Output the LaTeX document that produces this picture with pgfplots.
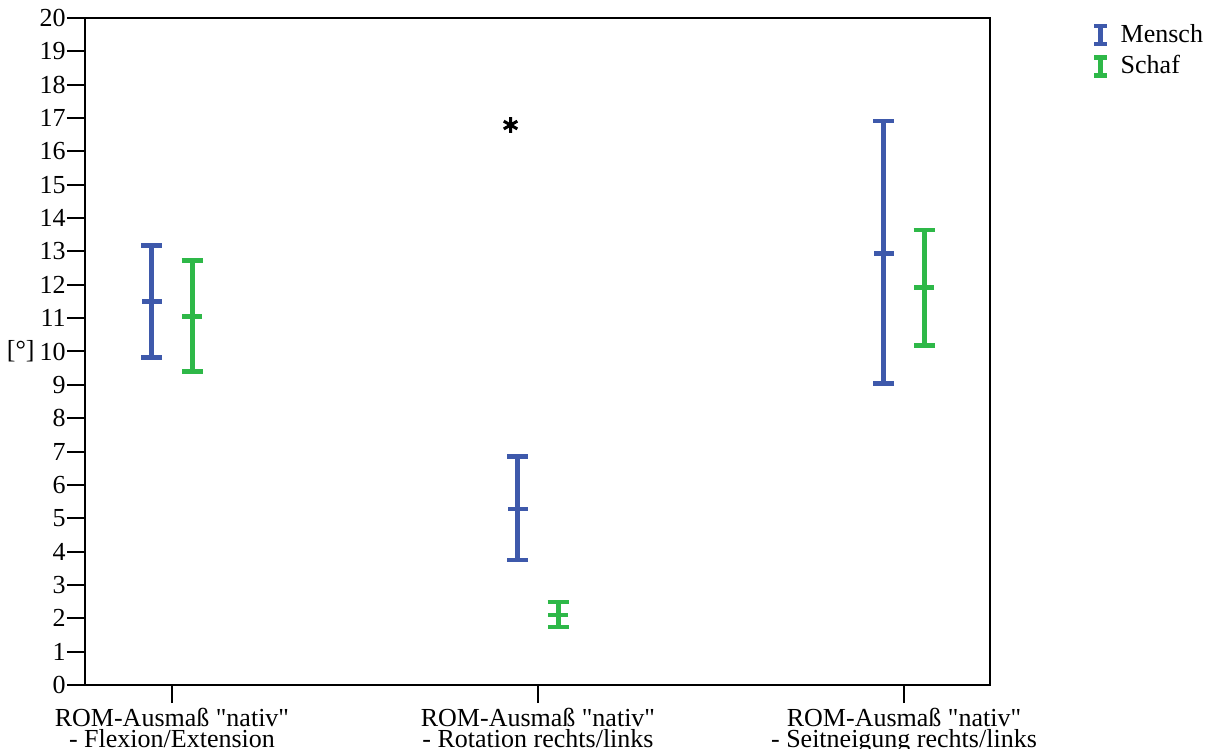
\documentclass[border=0pt]{standalone}
\usepackage{fontspec}
\setmainfont{Liberation Serif}
\newfontfamily\qf{Liberation Serif}
\usepackage{pgfplots}
\usepackage{pgfplotstable}
\pgfplotsset{compat=1.18}
\definecolor{mblue}{RGB}{62,89,171}
\definecolor{sgreen}{RGB}{46,184,72}
\newcommand{\q}{{\qf\symbol{34}}}

\pgfplotstableread{
x y ep em
-0.056 11.51 1.68 1.68
0.944 5.28 1.56 1.53
1.944 12.95 3.96 3.92
}\mensch
\pgfplotstableread{
x y ep em
0.055 11.06 1.68 1.65
1.055 2.10 0.39 0.36
2.055 11.93 1.71 1.74
}\schaf

\begin{document}
\begin{tikzpicture}
\begin{axis}[
  scale only axis, width=452.5pt, height=333.5pt,
  xmin=-0.2377, xmax=2.235, ymin=0, ymax=20,
  axis line style={line width=1pt, black},
  tick style={line width=1pt, black},
  tick align=outside,
  xtick pos=left, ytick pos=left,
  major tick length=9pt,
  xtick={0,1,2},
  xticklabels={{ROM-Ausmaß \q nativ\q\\- Flexion/Extension},{ROM-Ausmaß \q nativ\q\\- Rotation rechts/links},{ROM-Ausmaß \q nativ\q\\- Seitneigung rechts/links}},
  xticklabel style={align=center, font=\fontsize{13}{10.5}\selectfont, yshift=1pt},
  ytick={0,1,...,20},
  yticklabel style={font=\fontsize{13}{15}\selectfont, inner sep=0.5pt},
  /pgf/number format/assume math mode=true,
  minor tick num=0,
  legend cell align=left,
  legend image code/.code={
    \draw[line width=2.5pt] (0pt,-4.5pt)--(0pt,4.5pt);
    \draw[line width=2.4pt] (-3.25pt,-4.5pt)--(3.25pt,-4.5pt);
    \draw[line width=2.4pt] (-3.25pt,4.5pt)--(3.25pt,4.5pt);
  },
  legend style={at={(rel axis cs:1,1)}, anchor=north west, xshift=50.75pt, yshift=-2.6pt,
    draw=none, fill=none, inner sep=0pt, row sep=4.1pt, column sep=5.5pt,
    nodes={inner sep=0pt}, font=\fontsize{13}{15}\selectfont},
]
\addplot[only marks, mblue, mark=-, mark size=5pt, mark options={line width=2.4pt, mblue},
  error bars/.cd, y dir=both, y explicit,
  error bar style={line width=2.4pt, mblue},
  error mark options={rotate=90, line width=2.4pt, mark size=5.25pt, mblue},
  ]
  table[x=x, y=y, y error plus=ep, y error minus=em] {\mensch};
\addlegendentry{Mensch}
\addplot[only marks, sgreen, mark=-, mark size=5pt, mark options={line width=2.4pt, sgreen},
  error bars/.cd, y dir=both, y explicit,
  error bar style={line width=2.4pt, sgreen},
  error mark options={rotate=90, line width=2.4pt, mark size=5.25pt, sgreen},
  ]
  table[x=x, y=y, y error plus=ep, y error minus=em] {\schaf};
\addlegendentry{Schaf}
\addplot[only marks, black, mark=asterisk, mark size=3.9pt, mark options={line width=1.5pt}, forget plot]
  coordinates {(0.925,16.79)};
\coordinate (bl) at (rel axis cs:0,0);
\coordinate (tr) at (rel axis cs:1,1);
\coordinate (ml) at (rel axis cs:0,0.5);
\end{axis}
\node[anchor=east, inner sep=0pt, font=\fontsize{13}{15}\selectfont] at ([xshift=-25pt]ml) {[°]};
\pgfresetboundingbox
\path ([xshift=-42.5pt,yshift=-32pt]bl) rectangle ([xshift=112.5pt,yshift=9pt]tr);
\end{tikzpicture}
\end{document}
